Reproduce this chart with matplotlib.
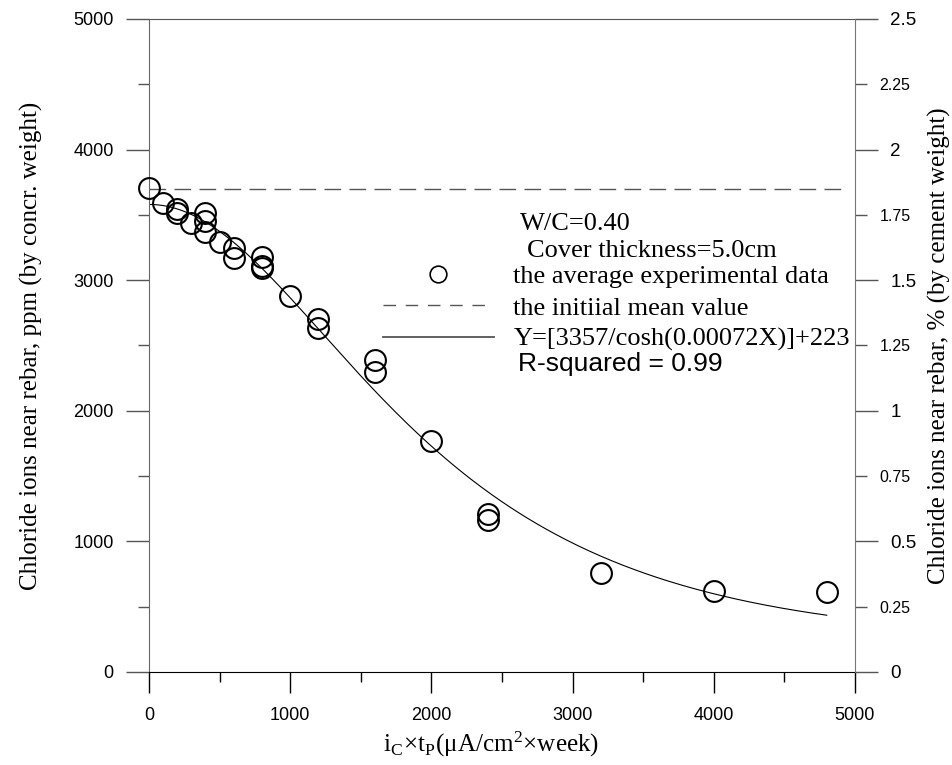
import numpy as np
import matplotlib
matplotlib.use("Agg")
import matplotlib.pyplot as plt
from matplotlib.lines import Line2D
from matplotlib.ticker import MultipleLocator, FormatStrFormatter

# average experimental data: charge (uA/cm2 x week) vs chloride near rebar (ppm)
charge = [0, 100, 200, 200, 300, 400, 400, 400, 500, 600, 600, 800, 800, 800,
          1000, 1200, 1200, 1600, 1600, 2000, 2400, 2400, 3200, 4000, 4800]
chloride = [3706, 3590, 3545, 3514, 3438, 3514, 3453, 3369, 3292, 3246, 3170,
            3180, 3110, 3090, 2879, 2705, 2634, 2385, 2297, 1769, 1210, 1160,
            758, 620, 613]

# initial mean value and regression Y = A/cosh(kX) + C
initial_mean = 3700
mean_span = [0, 4900]
fit_a, fit_k, fit_c = 3357, 0.00072, 223
fit_span = [0, 4800]

serif = "Liberation Serif"
sans = "Liberation Sans"
plt.rcParams["font.family"] = sans
plt.rcParams["mathtext.fontset"] = "stix"

fig = plt.figure(figsize=(9.52, 7.65), dpi=100)
ax = fig.add_axes([0.1565, 0.1216, 0.7416, 0.8536])

xfit = np.linspace(fit_span[0], fit_span[1], 300)
yfit = fit_a / np.cosh(fit_k * xfit) + fit_c
ax.plot(xfit, yfit, color="black", lw=0.8, zorder=2)
ax.plot(mean_span, [initial_mean, initial_mean], color="#555555", lw=1.0,
        ls=(0, (12, 6)), zorder=2)
ax.plot(charge, chloride, ls="none", marker="o", ms=15, mfc="none",
        mec="black", mew=1.5, zorder=3, clip_on=False)

ax.set_xlim(0, 5000)
ax.set_ylim(0, 5000)
ax.xaxis.set_major_locator(MultipleLocator(1000))
ax.xaxis.set_minor_locator(MultipleLocator(500))
ax.yaxis.set_major_locator(MultipleLocator(1000))
ax.yaxis.set_minor_locator(MultipleLocator(500))
ax.tick_params(axis="x", which="major", direction="out", length=15, width=1,
               labelsize=13, pad=10)
ax.tick_params(axis="x", which="minor", direction="out", length=7.5, width=1)
ax.tick_params(axis="y", which="major", direction="out", length=16.5, width=1,
               color="#555555", labelsize=13, pad=9)
ax.tick_params(axis="y", which="minor", direction="out", length=8, width=1,
               color="#555555")
ax.spines["left"].set_color("#666666")
ax.spines["top"].set_color("#555555")
ax.spines["bottom"].set_color("black")
ax.spines["right"].set_visible(False)

ax.set_xlabel(r"i$_\mathregular{C}$×t$_\mathregular{P}$(μA/cm$^\mathregular{2}$×week)",
              fontsize=18, family=serif)
ax.xaxis.set_label_coords(0.484, -0.088)
ax.set_ylabel("Chloride ions near rebar, ppm (by concr. weight)",
              fontsize=18, family=serif, labelpad=22)

# right axis in % by cement weight
ax2 = ax.twinx()
ax2.set_ylim(0, 2.5)
ax2.yaxis.set_major_locator(MultipleLocator(0.5))
ax2.yaxis.set_minor_locator(MultipleLocator(0.25))
ax2.yaxis.set_major_formatter(FormatStrFormatter("%g"))
ax2.yaxis.set_minor_formatter(FormatStrFormatter("%g"))
ax2.tick_params(axis="y", which="major", direction="out", length=16.5, width=1,
                color="#555555", labelsize=13.5, pad=9)
ax2.tick_params(axis="y", which="minor", direction="out", length=8.5, width=1,
                color="#555555", labelsize=11.5, pad=9)
for side in ["left", "top", "bottom"]:
    ax2.spines[side].set_visible(False)
ax2.spines["right"].set_color("#777777")
ax2.set_ylabel("Chloride ions near rebar, % (by cement weight)",
               fontsize=18, family=serif, labelpad=8)

handles = [
    Line2D([], [], ls="none", marker="o", ms=12, mfc="none", mec="black", mew=1.2),
    Line2D([], [], color="#555555", lw=1.0, ls=(0, (9, 7))),
    Line2D([], [], color="#555555", lw=1.3),
]
labels = ["the average experimental data", "the initiial mean value",
          "Y=[3357/cosh(0.00072X)]+223"]
ax.legend(handles, labels, loc="upper left", bbox_to_anchor=(0.331, 0.6235),
          frameon=False, borderpad=0, borderaxespad=0, handlelength=4.2,
          handletextpad=0.75, labelspacing=0.3,
          prop={"family": serif, "size": 19})

ax.text(2627, 3430, "W/C=0.40", family=serif, fontsize=19, va="center")
ax.text(2677, 3224, "Cover thickness=5.0cm", family=serif, fontsize=19, va="center")
ax.text(2613, 2360, "R-squared = 0.99", family=sans, fontsize=19, va="center")

fig.savefig("out.png", dpi=100)
